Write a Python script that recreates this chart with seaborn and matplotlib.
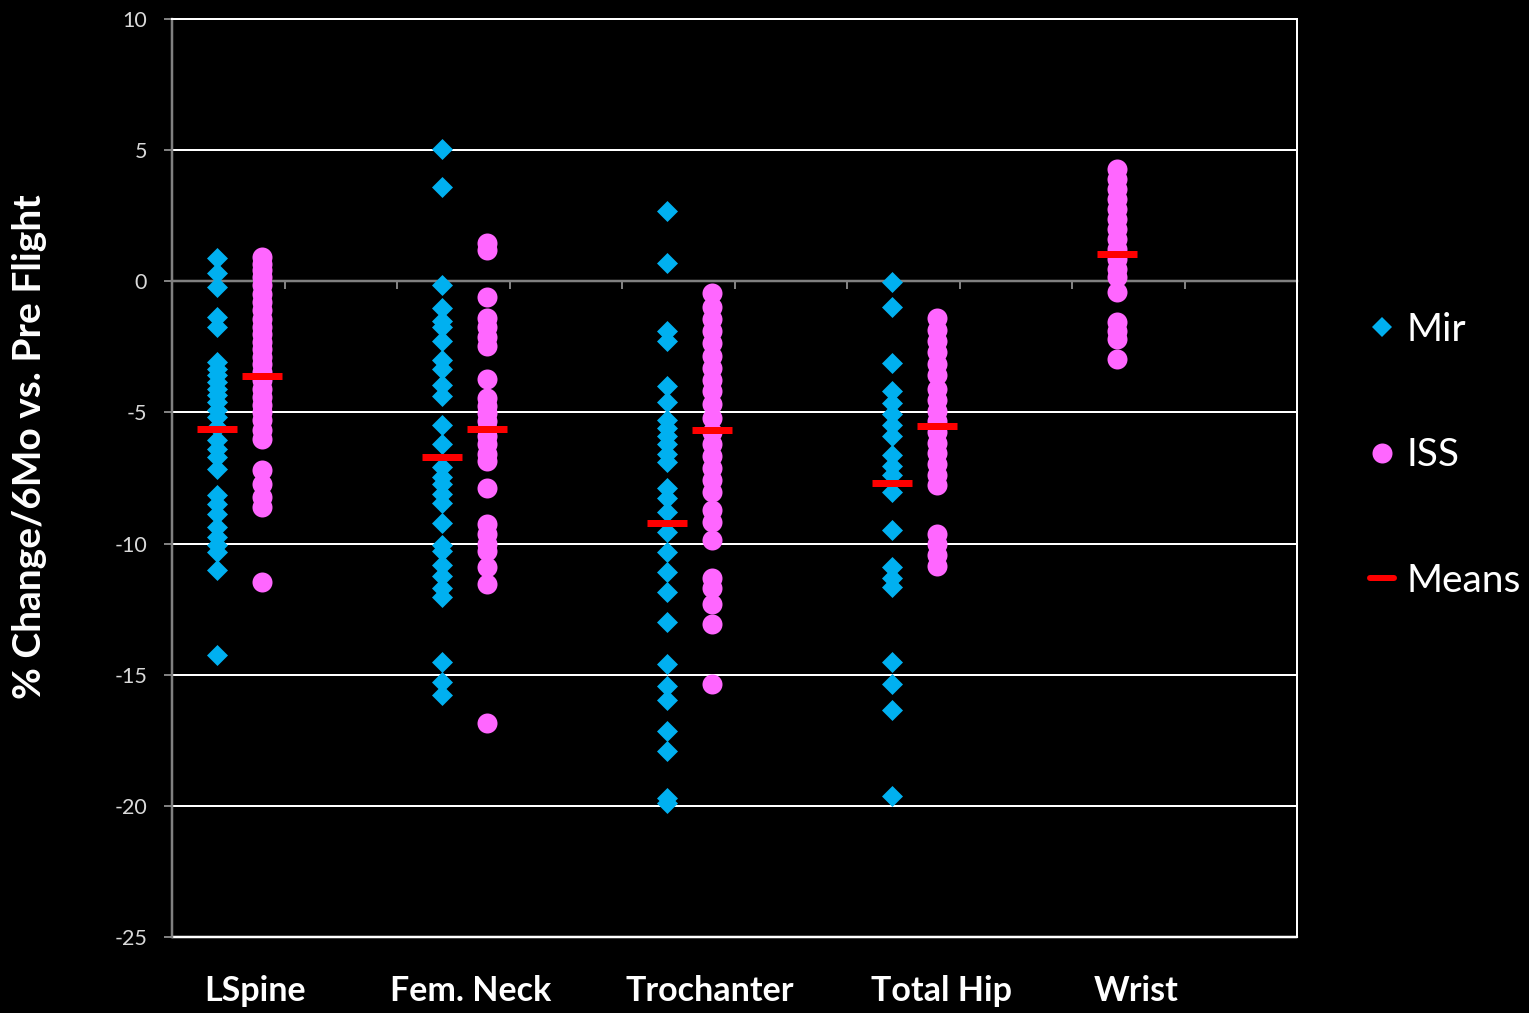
import pandas as pd
import matplotlib
matplotlib.use("Agg")
import matplotlib.pyplot as plt
from matplotlib.lines import Line2D
from matplotlib.transforms import blended_transform_factory
import seaborn as sns

# Bone sites along the x axis
sites = ["LSpine", "Fem. Neck", "Trochanter", "Total Hip", "Wrist"]

# Per-crewmember % change in BMD per 6 months of flight
mir_lspine = [0.87, 0.32, -0.22, -1.36, -1.74, -3.08, -3.33, -3.58, -3.84, -4.09,
              -4.35, -4.6, -4.92, -5.17, -5.55, -6.06, -6.38, -6.7, -7.14, -8.16,
              -8.48, -8.86, -9.37, -9.75, -10.07, -10.32, -11.02, -14.26]
iss_lspine = [0.93, 0.67, 0.42, 0.16, -0.15, -0.47, -0.79, -1.11, -1.42, -1.74,
              -2.0, -2.31, -2.57, -2.89, -3.14, -3.46, -3.77, -4.09, -4.41, -4.73,
              -4.98, -5.3, -5.68, -6.0, -7.2, -7.71, -8.22, -8.6, -11.46]
mir_femneck = [5.04, 3.58, -0.15, -1.02, -1.53, -1.75, -2.26, -2.99, -3.36, -3.94,
               -4.38, -5.47, -6.2, -7.08, -7.45, -7.74, -8.1, -8.47, -9.2, -10.07,
               -10.3, -10.8, -11.24, -11.68, -12.04, -14.53, -15.26, -15.77]
iss_femneck = [1.45, 1.2, -0.61, -1.39, -1.75, -2.12, -2.48, -3.72, -4.45, -4.74,
               -5.04, -5.33, -5.62, -5.91, -6.2, -6.57, -6.86, -7.88, -9.27, -9.64,
               -10.0, -10.29, -10.88, -11.53, -16.86]
mir_trochanter = [2.68, 0.69, -1.91, -2.29, -3.98, -4.59, -5.28, -5.58, -5.89, -6.19,
                  -6.57, -6.88, -7.87, -8.26, -8.79, -9.56, -10.32, -11.09, -11.85,
                  -13.0, -14.6, -15.44, -15.98, -17.13, -17.89, -19.7, -19.9]
iss_trochanter = [-0.46, -0.99, -1.45, -1.91, -2.37, -2.83, -3.29, -3.75, -4.2, -4.66,
                  -5.2, -5.73, -6.19, -6.65, -7.11, -7.57, -8.03, -8.72, -9.17, -9.86,
                  -11.31, -11.7, -12.31, -13.07, -15.37]
mir_totalhip = [-0.03, -0.98, -3.13, -4.18, -4.65, -5.06, -5.47, -5.88, -6.63, -7.03,
                -7.37, -8.05, -9.48, -10.91, -11.32, -11.66, -14.52, -15.34, -16.35,
                -19.62]
iss_totalhip = [-1.39, -1.86, -2.27, -2.68, -3.16, -3.56, -4.11, -4.52, -4.93, -5.33,
                -5.74, -6.15, -6.56, -6.97, -7.37, -7.78, -9.62, -10.03, -10.44, -10.84]
iss_wrist = [4.28, 3.9, 3.52, 3.14, 2.76, 2.38, 1.99, 1.61, 1.23, 0.85, 0.47, 0.15,
             -0.42, -1.56, -1.88, -2.2, -2.96]

# Group means
mir_means = [-5.65, -6.69, -9.22, -7.70]
iss_means = [-3.61, -5.64, -5.66, -5.52, 1.03]

mir_values = [mir_lspine, mir_femneck, mir_trochanter, mir_totalhip]
iss_values = [iss_lspine, iss_femneck, iss_trochanter, iss_totalhip, iss_wrist]

# Layout of the x axis: each site has a slot; paired programs sit either side
site_center = {"LSpine": 0.6, "Fem. Neck": 2.6, "Trochanter": 4.6,
               "Total Hip": 6.6, "Wrist": 8.4}
label_x = {"LSpine": 0.74, "Fem. Neck": 2.65, "Trochanter": 4.78,
           "Total Hip": 6.84, "Wrist": 8.57}


def build(program, groups, means):
    rows, mrows = [], []
    for site, vals, m in zip(sites, groups, means):
        paired = site in sites[:len(mir_values)]
        shift = (-0.2 if program == "Mir" else 0.2) if paired else 0.0
        x = site_center[site] + shift
        rows += [{"site": site, "x": x, "value": v} for v in vals]
        mrows.append({"site": site, "x": x, "value": m})
    return pd.DataFrame(rows), pd.DataFrame(mrows)


mir_df, mir_mean_df = build("Mir", mir_values, mir_means)
iss_df, iss_mean_df = build("ISS", iss_values, iss_means)
means_df = pd.concat([mir_mean_df, iss_mean_df], ignore_index=True)

MIR_COLOR = "#00B0F0"
ISS_COLOR = "#FF66FF"
MEAN_COLOR = "#FF0000"
FONT = ["Lato", "DejaVu Sans"]

sns.set_style("dark")
plt.rcParams["font.family"] = FONT
plt.rcParams["axes.unicode_minus"] = False

PX = 72 / 100  # points per pixel at dpi 100
DIAMOND_MS = 21 * PX / 1.414  # tip-to-tip ~21 px

fig = plt.figure(figsize=(15.29, 10.13), dpi=100, facecolor="black")
ax = fig.add_axes([172 / 1529, 1 - 937 / 1013, 1125 / 1529, 918 / 1013])
ax.set_facecolor("black")

sns.scatterplot(data=mir_df, x="x", y="value", marker="D", s=DIAMOND_MS ** 2,
                color=MIR_COLOR, linewidth=0, ax=ax, zorder=3)
sns.scatterplot(data=iss_df, x="x", y="value", marker="o", s=(20 * PX) ** 2,
                color=ISS_COLOR, linewidth=0, ax=ax, zorder=4)
sns.scatterplot(data=means_df, x="x", y="value", marker="_", s=(40 * PX) ** 2,
                color=MEAN_COLOR, linewidth=7 * PX, ax=ax, zorder=5)

ax.set_xlim(0, 10)
ax.set_ylim(-25, 10)
ax.set_yticks(range(-25, 11, 5))
ax.set_xticks(range(0, 11))
ax.set_xticklabels([])
ax.set_xlabel("")
ax.set_ylabel("")

# Horizontal gridlines
ax.grid(False)
for yv in [-20, -15, -10, -5, 5]:
    ax.axhline(yv, color="white", lw=2 * PX, zorder=1)

# Frame: white plot-area border, grey value axis, category axis crossing at 0
for side in ["top", "right"]:
    ax.spines[side].set_color("white")
    ax.spines[side].set_linewidth(2 * PX)
ax.spines["left"].set_color("#808080")
ax.spines["left"].set_linewidth(2.5 * PX)
ax.spines["bottom"].set_position(("data", 0))
ax.spines["bottom"].set_color("#808080")
ax.spines["bottom"].set_linewidth(2.5 * PX)
ax.spines["bottom"].set_zorder(2)
ax.axhline(-25, color="white", lw=2.5 * PX, clip_on=False, zorder=2)

ax.tick_params(axis="x", direction="out", length=8 * PX, width=2 * PX,
               color="#808080", bottom=True, labelbottom=False)
ax.tick_params(axis="y", direction="out", length=8 * PX, width=2 * PX,
               color="#808080", left=True, labelsize=15.5, labelcolor="#D9D9D9",
               pad=17 * PX)
for lab in ax.get_yticklabels():
    lab.set_fontfamily(FONT)

# Site names under the plot
label_tf = blended_transform_factory(ax.transData, fig.transFigure)
for site in sites:
    ax.text(label_x[site], 1 - 991 / 1013, site, transform=label_tf,
            ha="center", va="center", color="white", fontsize=24.5,
            fontweight="bold", family=FONT)

fig.text(30 / 1529, 1 - 447 / 1013, "% Change/6Mo vs. Pre Flight", rotation=90,
         ha="center", va="center", color="white", fontsize=28, fontweight="bold",
         family=FONT)

handles = [
    Line2D([], [], linestyle="none", marker="D", markersize=DIAMOND_MS * 0.95,
           markerfacecolor=MIR_COLOR, markeredgewidth=0),
    Line2D([], [], linestyle="none", marker="o", markersize=20 * PX,
           markerfacecolor=ISS_COLOR, markeredgewidth=0),
    Line2D([], [], color=MEAN_COLOR, lw=6 * PX),
]
fig.legend(handles, ["Mir", "ISS", "Means"], loc="upper left",
           bbox_to_anchor=(1370 / 1529, 1 - 312 / 1013), frameon=False,
           labelcolor="white", handlelength=0.62, handletextpad=0.33,
           labelspacing=2.3, borderpad=0, borderaxespad=0,
           prop={"family": FONT, "size": 28})

fig.savefig("out.png", dpi=100, facecolor="black")
